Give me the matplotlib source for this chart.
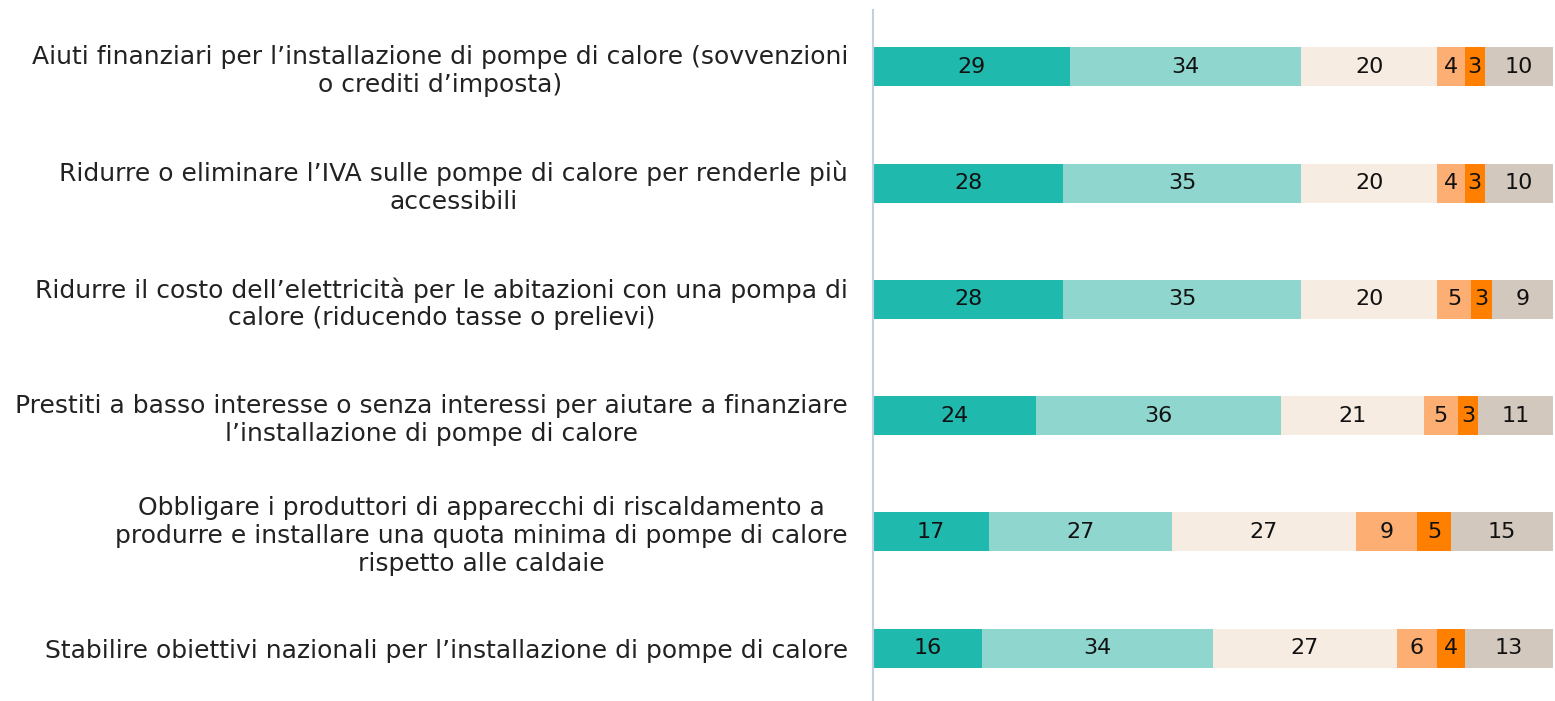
import numpy as np
import matplotlib.pyplot as plt

labels = [
    "Aiuti finanziari per l\u2019installazione di pompe di calore (sovvenzioni\no crediti d\u2019imposta)",
    "Ridurre o eliminare l\u2019IVA sulle pompe di calore per renderle pi\u00f9\naccessibili",
    "Ridurre il costo dell\u2019elettricit\u00e0 per le abitazioni con una pompa di\ncalore (riducendo tasse o prelievi)",
    "Prestiti a basso interesse o senza interessi per aiutare a finanziare\nl\u2019installazione di pompe di calore",
    "Obbligare i produttori di apparecchi di riscaldamento a\nprodurre e installare una quota minima di pompe di calore\nrispetto alle caldaie",
    "Stabilire obiettivi nazionali per l\u2019installazione di pompe di calore",
]

s1 = [29, 28, 28, 24, 17, 16]
s2 = [34, 35, 35, 36, 27, 34]
s3 = [20, 20, 20, 21, 27, 27]
s4 = [4, 4, 5, 5, 9, 6]
s5 = [3, 3, 3, 3, 5, 4]
s6 = [10, 10, 9, 11, 15, 13]

series = [s1, s2, s3, s4, s5, s6]
colors = ['#20B9AE', '#8FD6CF', '#F7ECE2', '#FDAF73', '#FF7F00', '#D3C8BD']

fig = plt.figure(figsize=(15.55, 7.01), dpi=100)
ax = fig.add_axes([873 / 1555, 0, 682 / 1555, 691 / 701])

y = np.arange(len(labels))
left = np.zeros(len(labels))
for vals, c in zip(series, colors):
    vals = np.array(vals)
    bars = ax.barh(y, vals, left=left, height=0.335, color=c, edgecolor='none')
    for b, v in zip(bars, vals):
        ax.text(b.get_x() + b.get_width() / 2, b.get_y() + b.get_height() / 2, str(v),
                ha='center', va='center', fontsize=16, color='#111111')
    left += vals

ax.set_xlim(0, 100.3)
ax.set_ylim(5.455, -0.49)
ax.set_yticks(y)
ax.set_yticklabels(labels, fontsize=18, color='#222222', multialignment='center',
                   linespacing=1.2)
ax.tick_params(axis='y', length=0, pad=18)
ax.set_xticks([])
for sp in ['top', 'right', 'bottom']:
    ax.spines[sp].set_visible(False)
ax.spines['left'].set_color('#C5D0DC')
ax.spines['left'].set_linewidth(1.5)

fig.savefig('out.png', dpi=100)
